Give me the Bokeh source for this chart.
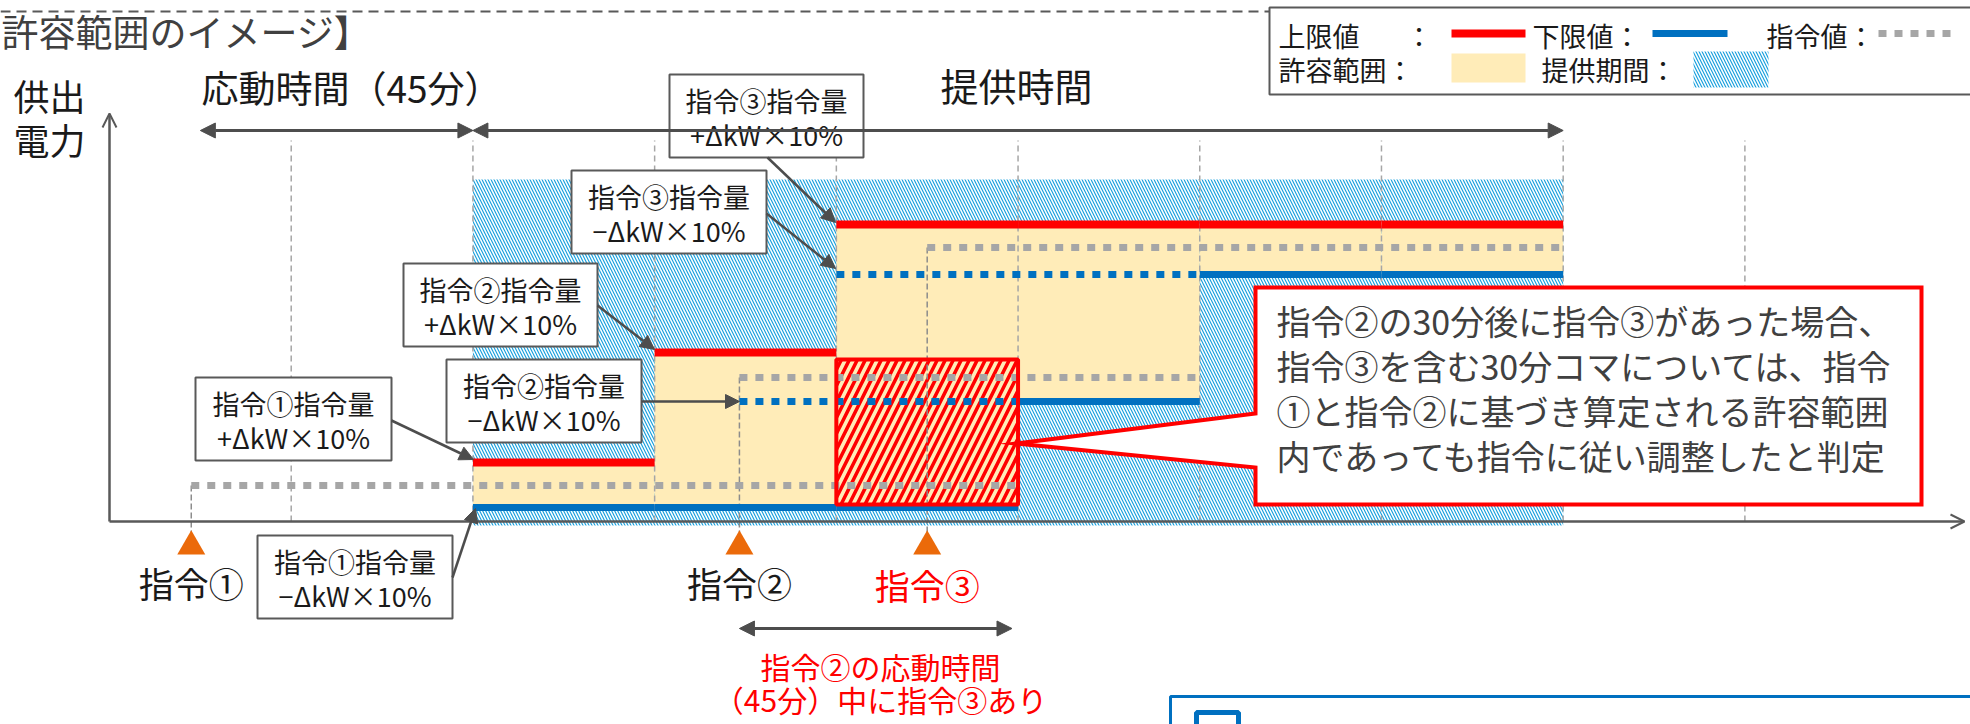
from bokeh.plotting import figure
from bokeh.models import Arrow, NormalHead, OpenHead, Range1d
from bokeh.core.properties import value
from bokeh.embed import file_html
from bokeh.resources import INLINE

FONT = "Noto Sans CJK JP"

# ---------------- data ----------------
grid_times = [30, 60, 90, 120, 150, 180, 210, 240, 270]      # 30-minute slot boundaries [min]
slot_start = [60, 90, 120, 150, 180, 210]
slot_end = [90, 120, 150, 180, 210, 240]
upper_limit = [59, 169, 297, 297, 297, 297]                  # 上限値
lower_limit = [14, 14, 14, 120, 247, 247]                    # 下限値
command_labels = ["指令①", "指令②", "指令③"]
command_time = [13.5, 104, 135]
command_value = [36, 144, 274]                               # 指令値
command_end = [150, 180, 240]
pending_lower_start = [104, 120]                             # 下限値 (dotted part)
pending_lower_end = [150, 180]
pending_lower_value = [120, 247]
provision_period = [60, 240]                                 # 提供期間
provision_band = [-4, 342]
response_minutes = 45
judged_slot = [120, 150]
judged_range = [17, 162]

# ---------------- colours ----------------
RED = "#ff0000"
BLUE = "#0070c0"
GRAY_DOT = "#a6a6a6"
YELLOW = "#ffecb8"
HATCH_BLUE = "#1ba1de"
DARK = "#595959"
TEXT = "#1a1a1a"
ORANGE = "#eb6a0a"

# ---------------- layout helpers (reference pixel -> data) ----------------
W, H = 1970, 724
OFF = 0
PPM = 6.057          # pixels per minute
X0, Y0 = 109, 521    # origin in reference pixels


def X(fx):
    return (fx - X0) / PPM


def Y(fy):
    return Y0 - fy


p = figure(width=W, height=H, output_backend="svg", toolbar_location=None,
           x_range=Range1d(X(OFF), X(OFF + W)), y_range=Range1d(Y(OFF + H), Y(OFF)),
           x_axis_type=None, y_axis_type=None, min_border=0,
           outline_line_color=None, background_fill_color="white")
p.grid.visible = False


def txt(xs, ys, texts, size, color=TEXT, align="left", baseline="middle"):
    p.text(x=xs, y=ys, text=texts, text_font=value(FONT),
           text_font_size=f"{size}px", text_color=color,
           text_align=align, text_baseline=baseline)


# provision period hatch
p.quad(left=[provision_period[0]], right=[provision_period[1]],
       bottom=[provision_band[0]], top=[provision_band[1]],
       fill_color="white", line_color=None,
       hatch_pattern="\\", hatch_color=HATCH_BLUE, hatch_scale=6, hatch_weight=1.2)

# permitted range
p.quad(left=slot_start, right=slot_end, bottom=lower_limit, top=upper_limit,
       fill_color=YELLOW, line_color=None)

# judged slot hatch
p.quad(left=[judged_slot[0]], right=[judged_slot[1]],
       bottom=[judged_range[0]], top=[judged_range[1]],
       fill_color=YELLOW, line_color=None,
       hatch_pattern="/", hatch_color=RED, hatch_scale=16, hatch_weight=3.5)

# grid lines
p.segment(x0=grid_times, y0=[0] * len(grid_times), x1=grid_times,
          y1=[Y(140)] * len(grid_times), line_color="#a6a6a6",
          line_width=1.5, line_dash="6 4")

# command vertical lines
p.segment(x0=command_time, y0=command_value, x1=command_time,
          y1=[Y(532)] * 3, line_color="#8c8c8c", line_width=1.5, line_dash="6 3")

# axes
p.add_layout(Arrow(x_start=0, y_start=0, x_end=0, y_end=Y(113),
                   line_color=DARK, line_width=2.5,
                   end=OpenHead(size=14, line_color=DARK, line_width=2)))
p.add_layout(Arrow(x_start=0, y_start=0, x_end=X(1964), y_end=0,
                   line_color=DARK, line_width=2.5,
                   end=OpenHead(size=14, line_color=DARK, line_width=2)))

# command values (gray dotted)
p.segment(x0=command_time, y0=command_value, x1=command_end, y1=command_value,
          line_color=GRAY_DOT, line_width=7, line_dash="8 8", line_cap="butt")
# pending lower limit (blue dotted)
p.segment(x0=pending_lower_start, y0=pending_lower_value, x1=pending_lower_end,
          y1=pending_lower_value, line_color=BLUE, line_width=7,
          line_dash="8 8", line_cap="butt")
# lower / upper limits
p.segment(x0=slot_start, y0=lower_limit, x1=slot_end, y1=lower_limit,
          line_color=BLUE, line_width=7, line_cap="butt")
p.segment(x0=slot_start, y0=upper_limit, x1=slot_end, y1=upper_limit,
          line_color=RED, line_width=8, line_cap="butt")

# judged slot border
p.quad(left=[judged_slot[0]], right=[judged_slot[1]],
       bottom=[judged_range[0]], top=[judged_range[1]],
       fill_color=None, line_color=RED, line_width=4)

# big callout
bx = [X(1255), X(1921), X(1921), X(1255), X(1255), X(1016), X(1255)]
by = [Y(287), Y(287), Y(504), Y(504), Y(467), Y(443), Y(413)]
p.patch(bx, by, fill_color="white", line_color=RED, line_width=4, line_join="miter")
txt([X(1276)] * 4, [Y(320), Y(365), Y(410), Y(455)],
    ["指令②の30分後に指令③があった場合、",
     "指令③を含む30分コマについては、指令",
     "①と指令②に基づき算定される許容範囲",
     "内であっても指令に従い調整したと判定"], 34, color="#404040")

# small callouts: (left, top, right, bottom, line1, line2, arrow start, arrow end)
callouts = [
    (669, 74, 863, 157, "指令③指令量", "+ΔkW×10%", (767, 157), (835, 222)),
    (571, 170, 766, 253, "指令③指令量", "−ΔkW×10%", (766, 213), (835, 268)),
    (403, 263, 597, 346, "指令②指令量", "+ΔkW×10%", (597, 305), (654, 349)),
    (446, 359, 641, 442, "指令②指令量", "−ΔkW×10%", (641, 401), (739, 401)),
    (195, 377, 391, 460, "指令①指令量", "+ΔkW×10%", (391, 420), (473, 459)),
    (257, 535, 452, 618, "指令①指令量", "−ΔkW×10%", (452, 577), (475, 508)),
]
for l, t, r, b, s1, s2, a0, a1 in callouts:
    p.add_layout(Arrow(x_start=X(a0[0]), y_start=Y(a0[1]), x_end=X(a1[0]), y_end=Y(a1[1]),
                       line_color="#4d4d4d", line_width=2.5,
                       end=NormalHead(size=14, fill_color="#4d4d4d", line_color="#4d4d4d")))
for l, t, r, b, s1, s2, a0, a1 in callouts:
    p.quad(left=[X(l)], right=[X(r)], top=[Y(t)], bottom=[Y(b)],
           fill_color="white", line_color=DARK, line_width=2)
    cx = X((l + r) / 2)
    txt([cx, cx], [Y(t + 26), Y(t + 60)], [s1, s2], 27, align="center")

# dimension arrows
head = dict(size=15, fill_color="#4d4d4d", line_color="#4d4d4d")
p.add_layout(Arrow(x_start=provision_period[0] - response_minutes, y_start=Y(130),
                   x_end=provision_period[0], y_end=Y(130), line_color="#4d4d4d",
                   line_width=3, start=NormalHead(**head), end=NormalHead(**head)))
p.add_layout(Arrow(x_start=provision_period[0], y_start=Y(130),
                   x_end=provision_period[1], y_end=Y(130), line_color="#4d4d4d",
                   line_width=3, start=NormalHead(**head), end=NormalHead(**head)))
p.add_layout(Arrow(x_start=command_time[1], y_start=Y(628),
                   x_end=command_time[1] + response_minutes, y_end=Y(628),
                   line_color="#4d4d4d", line_width=3,
                   start=NormalHead(**head), end=NormalHead(**head)))

# command triangles + labels
p.scatter(x=command_time, y=[Y(546)] * 3, marker="triangle", size=28,
          fill_color=ORANGE, line_color=None)
txt(command_time[:2], [Y(582)] * 2, command_labels[:2], 35, align="center")
txt([command_time[2]], [Y(584)], [command_labels[2]], 35, color=RED, align="center")

# texts
txt([X(1)], [Y(30)], ["許容範囲のイメージ】"], 37, color="#404040")
txt([X(13)] * 2, [Y(94), Y(138)], ["供出", "電力"], 36)
txt([X(201)], [Y(86)], ["応動時間（45分）"], 37)
txt([X(940)], [Y(84)], ["提供時間"], 38)
txt([X(880)], [Y(665)], ["指令②の応動時間"], 30, color=RED, align="center")
txt([X(880)], [Y(698)], ["（45分）中に指令③あり"], 30, color=RED, align="center")

# top dashed frame line
p.segment(x0=[X(0)], y0=[Y(11)], x1=[X(1970)], y1=[Y(11)], line_color=DARK,
          line_width=2, line_dash="10 6")

# legend
p.quad(left=[X(1269)], right=[X(1975)], top=[Y(7)], bottom=[Y(94)],
       fill_color="white", line_color=DARK, line_width=2)
txt([X(1278), X(1405), X(1532), X(1766)], [Y(35)] * 4,
    ["上限値", "：", "下限値：", "指令値："], 27)
txt([X(1278), X(1541)], [Y(69)] * 2, ["許容範囲：", "提供期間："], 27)
p.segment(x0=[X(1451)], y0=[Y(33)], x1=[X(1525)], y1=[Y(33)],
          line_color=RED, line_width=8, line_cap="butt")
p.segment(x0=[X(1652)], y0=[Y(33)], x1=[X(1727)], y1=[Y(33)],
          line_color=BLUE, line_width=7, line_cap="butt")
p.segment(x0=[X(1878)], y0=[Y(33)], x1=[X(1952)], y1=[Y(33)],
          line_color=GRAY_DOT, line_width=7, line_dash="8 8", line_cap="butt")
p.quad(left=[X(1451)], right=[X(1525)], top=[Y(53)], bottom=[Y(82)],
       fill_color=YELLOW, line_color=None)
p.quad(left=[X(1693)], right=[X(1768)], top=[Y(51)], bottom=[Y(87)],
       fill_color="white", line_color=None,
       hatch_pattern="\\", hatch_color=HATCH_BLUE, hatch_scale=6, hatch_weight=1.2)

# bottom-right box (cut off)
p.quad(left=[X(1170)], right=[X(1985)], top=[Y(696)], bottom=[Y(760)],
       fill_color=None, line_color=BLUE, line_width=3)
p.quad(left=[X(1196)], right=[X(1238)], top=[Y(712)], bottom=[Y(760)],
       fill_color=None, line_color=BLUE, line_width=5)

open("out.html", "w").write(file_html(p, INLINE))
